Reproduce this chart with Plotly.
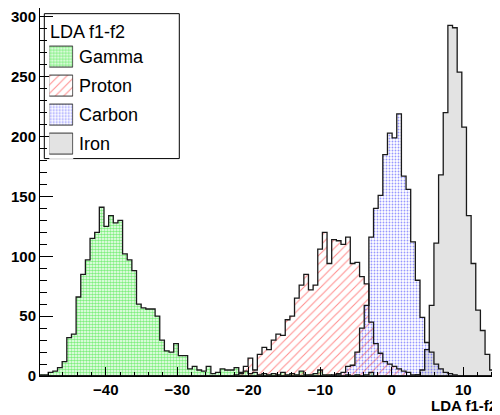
import plotly.graph_objects as go

# ---------------- data ----------------
hist_min = -50.0
bin_width = 0.65
n_bins = 100

series_names = ["Gamma", "Proton", "Carbon", "Iron"]
legend_title = "LDA f1-f2"
x_title = "LDA f1-f2"

gamma_first_bin = 1
gamma_counts = [1, 1, 3, 4, 7, 12, 32, 35, 66, 85, 97, 115, 120, 141, 125, 134, 128, 130,
                102, 97, 88, 60, 57, 56, 56, 50, 30, 21, 20, 27, 17, 17, 6, 8, 5, 4, 8, 2,
                3, 6, 5, 5, 7, 3, 4, 2, 3, 1, 2, 1, 2, 1, 3, 1, 2, 1, 4, 1, 1, 2, 5, 1, 1,
                0, 1, 0, 1, 0, 1, 0, 1, 3]

proton_first_bin = 43
proton_counts = [1, 2, 8, 15, 5, 18, 24, 22, 30, 35, 34, 47, 50, 65, 76, 85, 72, 76, 106,
                 120, 94, 114, 113, 110, 116, 94, 95, 83, 77, 45, 27, 19, 12, 10, 8, 6, 4,
                 3, 1, 1]

carbon_first_bin = 64
carbon_counts = [1, 2, 3, 8, 9, 20, 40, 59, 116, 140, 151, 185, 203, 199, 219, 167, 156,
                 112, 80, 49, 28, 20, 10, 6, 3, 2, 1]

iron_first_bin = 82
iron_counts = [1, 5, 22, 59, 111, 168, 220, 293, 291, 254, 208, 134, 94, 55, 38, 18, 5, 3]

x_tick_vals = [-40, -30, -20, -10, 0, 10]
y_tick_vals = [0, 50, 100, 150, 200, 250, 300]


def full_counts(first_bin, counts):
    c = [0] * n_bins
    for i, v in enumerate(counts):
        c[first_bin + i] = v
    return c


edges = [hist_min + k * bin_width for k in range(n_bins + 1)]
centers = [hist_min + (k + 0.5) * bin_width for k in range(n_bins)]

FONT = "Liberation Sans, Arial, sans-serif"

styles = {
    "Gamma": dict(shape=".", fg="#00e000", bg="white", size=3, solidity=0.6),
    "Proton": dict(shape="/", fg="#ff2020", bg="rgba(0,0,0,0)", size=6, solidity=0.18),
    "Carbon": dict(shape=".", fg="#3030ff", bg="rgba(0,0,0,0)", size=3, solidity=0.3),
    "Iron": dict(shape="", fg="#e3e3e3", bg="#e3e3e3", size=6, solidity=0.3),
}

data = {
    "Gamma": full_counts(gamma_first_bin, gamma_counts),
    "Proton": full_counts(proton_first_bin, proton_counts),
    "Carbon": full_counts(carbon_first_bin, carbon_counts),
    "Iron": full_counts(iron_first_bin, iron_counts),
}


def make_marker(name, legend=False):
    st = styles[name]
    bg = st["bg"]
    if legend and bg == "rgba(0,0,0,0)":
        bg = "white"
    line = dict(color="#333333", width=1) if legend else dict(width=0)
    if st["shape"]:
        return dict(color=bg, line=line,
                    pattern=dict(shape=st["shape"], fgcolor=st["fg"], bgcolor=bg,
                                 size=st["size"], solidity=st["solidity"]))
    return dict(color=st["bg"], line=line)


fig = go.Figure()
draw_order = ["Iron", "Gamma", "Proton", "Carbon"]
for name in draw_order:
    counts = data[name]
    fig.add_trace(go.Bar(
        x=centers, y=counts, width=bin_width, marker=make_marker(name), name=name,
        showlegend=False, hoverinfo="skip",
    ))
    xs = [edges[0]] + edges[:-1] + [edges[-1], edges[-1]]
    ys = [0] + counts + [counts[-1], 0]
    fig.add_trace(go.Scatter(
        x=xs, y=ys, mode="lines", line=dict(shape="hv", color="#1a1a1a", width=1.3),
        showlegend=False, hoverinfo="skip",
    ))

# ---- legend (ROOT TLegend style): swatches drawn as bars on a hidden overlay axis ----
rows = list(range(len(series_names)))
for r, n in zip(rows, series_names):
    fig.add_trace(go.Bar(
        x=[1], y=[r], orientation="h", width=0.72,
        xaxis="x2", yaxis="y2", showlegend=False, hoverinfo="skip",
        marker=make_marker(n, legend=True),
    ))

annotations = [
    dict(text="<b>%s</b>" % x_title, xref="paper", yref="paper", x=1.0, y=-0.08,
         xanchor="right", yanchor="middle", showarrow=False,
         font=dict(family=FONT, size=15, color="black")),
    dict(text=legend_title, xref="paper", yref="paper", x=0.0165, y=0.935,
         xanchor="left", yanchor="middle", showarrow=False,
         font=dict(family=FONT, size=18, color="black")),
]
for r, n in zip(rows, series_names):
    annotations.append(dict(
        text=n, xref="paper", yref="y2", x=0.081, y=r, xanchor="left", yanchor="middle",
        showarrow=False, font=dict(family=FONT, size=18, color="black"),
    ))

tickfont = dict(family=FONT, size=15, color="black", weight="bold")

fig.update_layout(
    width=492, height=407,
    margin=dict(l=32, r=1, t=0, b=39, pad=0, autoexpand=False),
    paper_bgcolor="white", plot_bgcolor="white",
    barmode="overlay", bargap=0,
    showlegend=False,
    xaxis=dict(
        range=[-49.2, 15.0], showgrid=False, zeroline=False, automargin=False,
        showline=True, linecolor="black", linewidth=1, mirror=True,
        ticks="inside", ticklen=9, tickwidth=1, tickcolor="black",
        tickvals=x_tick_vals, tickfont=tickfont,
        minor=dict(dtick=2, tick0=0, ticks="inside", ticklen=4.5, tickcolor="black", tickwidth=1),
    ),
    yaxis=dict(
        range=[0, 307.5], showgrid=False, zeroline=False, automargin=False,
        showline=True, linecolor="black", linewidth=1, mirror=True,
        ticks="inside", ticklen=13, tickwidth=1, tickcolor="black",
        tickvals=y_tick_vals, tickfont=tickfont,
        minor=dict(dtick=10, tick0=0, ticks="inside", ticklen=6.5, tickcolor="black", tickwidth=1),
    ),
    xaxis2=dict(domain=[0.0203, 0.0725], range=[0, 1], anchor="y2", visible=False, fixedrange=True),
    yaxis2=dict(domain=[0.590, 0.906], range=[3.5, -0.5], anchor="x2", visible=False, fixedrange=True),
    shapes=[dict(type="rect", xref="paper", yref="paper", x0=0.0094, x1=0.3035,
                 y0=0.5908, y1=0.9846, fillcolor="white", line=dict(color="black", width=1),
                 layer="below")],
    annotations=annotations,
)

fig.write_html("out.html")
